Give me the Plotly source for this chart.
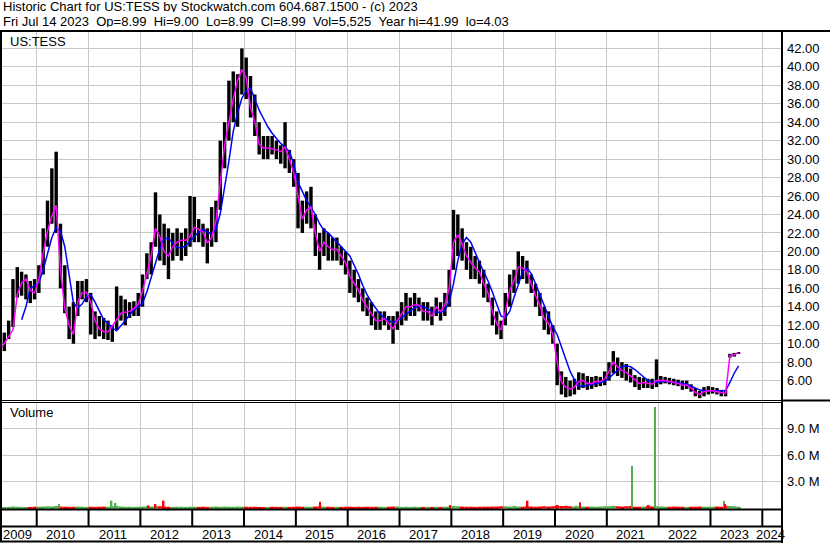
import plotly.graph_objects as go
import pandas as pd

W, H = 830, 543

# ---------------- data ----------------
months = pd.period_range("2009-04", "2023-07", freq="M")

price_high = [
    # 2009 Apr-Dec
    10.0, 11.2, 12.5, 17.0, 18.3, 17.8, 17.5, 16.8, 17.0,
    # 2010
    18.5, 22.5, 25.5, 29.0, 30.8, 23.0, 18.5, 14.0, 14.5, 16.8, 16.8, 17.0,
    # 2011
    15.5, 13.5, 13.0, 12.8, 12.5, 12.0, 16.2, 15.2, 14.8, 14.5, 14.6, 15.5,
    # 2012
    17.5, 19.8, 21.0, 26.4, 24.0, 23.0, 22.5, 22.0, 22.5, 22.0, 22.5, 26.0,
    # 2013
    25.9, 23.5, 23.0, 22.5, 24.8, 25.5, 32.0, 34.0, 38.5, 39.5, 39.2, 41.99,
    # 2014
    41.0, 39.0, 37.0, 34.0, 32.5, 32.5, 32.5, 32.0, 31.5, 34.0, 31.0, 30.0,
    # 2015
    28.5, 25.5, 26.5, 27.0, 24.0, 22.0, 22.5, 22.0, 21.5, 21.5, 20.5, 20.0,
    # 2016
    19.0, 18.0, 17.0, 16.0, 15.0, 14.5, 13.5, 13.5, 13.5, 13.0, 13.0, 13.5,
    # 2017
    14.5, 15.5, 15.0, 15.5, 15.0, 14.5, 14.5, 14.0, 15.0, 14.5, 15.5, 18.0,
    # 2018
    24.5, 24.0, 22.5, 21.0, 20.5, 19.5, 19.0, 18.0, 16.5, 15.0, 13.5, 12.5,
    # 2019
    15.5, 17.5, 18.0, 20.0, 19.5, 19.0, 17.5, 16.5, 15.5, 14.0, 13.5, 12.0,
    # 2020
    10.0, 7.0, 6.4, 6.0, 6.2, 6.9, 6.8, 6.5, 6.4, 6.5, 6.4, 7.0,
    # 2021
    8.0, 9.2, 8.5, 8.0, 7.8, 7.3, 6.6, 6.4, 6.3, 6.2, 6.2, 8.3,
    # 2022
    6.5, 6.4, 6.3, 6.2, 6.1, 6.0, 6.0, 5.6, 5.2, 4.9, 5.3, 5.4,
    # 2023 Jan-Jul
    5.3, 5.2, 5.0, 5.0, 8.9, 9.0, 9.0,
]

price_low = [
    # 2009 Apr-Dec
    8.5, 9.2, 10.5, 11.8, 15.0, 15.2, 14.8, 14.4, 14.8,
    # 2010
    15.5, 17.5, 20.5, 23.0, 22.0, 16.0, 13.3, 10.5, 10.0, 13.0, 14.8, 14.5,
    # 2011
    11.0, 10.5, 10.8, 10.5, 10.4, 10.2, 11.5, 12.5, 12.0, 12.8, 13.0, 13.0,
    # 2012
    14.0, 17.0, 17.5, 20.5, 19.0, 18.5, 17.0, 19.0, 19.5, 19.0, 19.5, 20.5,
    # 2013
    21.0, 21.0, 20.5, 18.7, 20.5, 21.0, 24.5, 29.0, 32.0, 34.0, 33.5, 37.0,
    # 2014
    36.5, 34.5, 32.5, 30.5, 30.0, 30.0, 30.5, 30.0, 29.5, 29.0, 28.5, 27.0,
    # 2015
    22.5, 22.0, 23.0, 22.5, 19.5, 18.0, 19.5, 19.0, 19.0, 19.0, 18.5, 17.5,
    # 2016
    15.5, 15.0, 14.5, 13.5, 13.0, 12.0, 11.5, 11.5, 12.0, 11.5, 10.0, 11.5,
    # 2017
    12.0, 12.5, 13.0, 13.0, 13.5, 12.5, 12.5, 12.0, 13.0, 12.5, 13.0, 14.0,
    # 2018
    18.0, 19.5, 19.0, 18.0, 17.0, 17.0, 16.5, 15.0, 14.5, 12.0, 11.0, 10.5,
    # 2019
    12.0, 14.0, 15.5, 16.5, 17.0, 16.5, 15.5, 14.0, 13.0, 11.5, 11.0, 10.0,
    # 2020
    5.5, 4.5, 4.2, 4.3, 4.5, 5.0, 5.2, 5.0, 5.1, 5.3, 5.4, 5.5,
    # 2021
    6.0, 6.8, 6.5, 6.3, 6.0, 5.8, 5.3, 5.0, 5.2, 5.2, 5.1, 5.3,
    # 2022
    5.6, 5.7, 5.6, 5.5, 5.4, 5.0, 5.1, 4.8, 4.3, 4.1, 4.3, 4.5,
    # 2023 Jan-Jul
    4.6, 4.5, 4.3, 4.3, 8.5, 8.6, 8.9,
]

# short moving average (magenta)
ma_short = [
    9.3, 10.0, 10.8, 11.5, 15.3, 16.6, 17.0, 15.8, 15.5,
    17.0, 19.8, 22.2, 23.8, 25.0, 18.0, 13.8, 12.0, 11.0, 14.5, 15.5, 15.6,
    14.5, 12.5, 11.6, 11.3, 11.3, 11.9, 12.6, 13.3, 13.4, 13.5, 13.8, 14.3,
    15.7, 17.5, 19.5, 22.5, 21.6, 20.0, 19.5, 20.5, 21.0, 21.2, 21.2, 21.6,
    22.6, 22.4, 22.1, 20.9, 21.5, 23.3, 27.6, 31.5, 34.0, 36.5, 38.5, 39.7,
    38.8, 35.6, 34.0, 31.6, 31.2, 31.2, 31.1, 31.0, 30.8, 31.3, 30.0, 28.5,
    26.0, 23.5, 24.5, 24.8, 22.0, 20.0, 21.0, 20.5, 20.2, 20.2, 19.5, 18.8,
    17.3, 16.5, 15.8, 14.7, 14.0, 13.2, 12.5, 12.5, 12.7, 12.2, 11.6, 12.5,
    13.2, 14.0, 14.0, 14.2, 14.2, 13.5, 13.5, 13.0, 14.0, 13.5, 14.2, 16.0,
    21.0, 21.8, 20.8, 19.5, 18.8, 18.2, 17.8, 16.5, 15.5, 13.5, 12.2, 11.5,
    13.5, 15.8, 16.8, 18.3, 18.2, 17.8, 16.5, 15.2, 14.2, 12.7, 12.2, 11.0,
    8.0, 5.8, 5.3, 5.1, 5.3, 5.9, 6.0, 5.7, 5.7, 5.9, 5.9, 6.2,
    7.0, 8.0, 7.5, 7.1, 6.9, 6.5, 6.0, 5.7, 5.8, 5.7, 5.6, 6.0,
    6.0, 6.0, 5.9, 5.8, 5.7, 5.5, 5.5, 5.2, 4.7, 4.5, 4.8, 4.9,
    4.9, 4.8, 4.7, 4.6, 8.7, 8.8, 9.0,
]

# long moving average (blue), starts Sep 2009
ma_long_months = pd.period_range("2009-09", "2023-07", freq="M")
ma_long = [
    12.6, 14.0, 16.0, 16.3,
    16.6, 18.0, 19.8, 21.5, 22.6, 22.2, 20.5, 17.5, 14.4, 13.9, 14.3, 15.1,
    15.3, 14.5, 13.6, 12.6, 12.2, 11.7, 11.4, 11.9, 12.5, 13.1, 13.7, 13.9,
    14.4, 15.6, 17.2, 18.9, 20.3, 21.4, 21.4, 20.9, 20.4, 20.4, 20.6, 21.1,
    21.6, 22.1, 22.4, 22.1, 21.9, 22.4, 24.1, 26.8, 29.8, 33.0, 35.0, 36.6,
    37.4, 37.7, 36.5, 35.3, 34.4, 33.5, 32.8, 32.2, 31.7, 31.3, 30.8, 29.5,
    27.5, 26.5, 25.5, 24.8, 24.0, 23.0, 22.3, 22.0, 21.5, 21.0, 20.5, 20.0,
    19.5, 18.5, 17.5, 16.3, 15.3, 14.5, 13.8, 13.2, 12.8, 12.5, 12.3, 12.5,
    12.8, 13.2, 13.6, 13.9, 14.1, 14.0, 13.8, 13.5, 13.4, 13.4, 13.6, 14.5,
    16.5, 19.0, 20.8, 21.5, 21.0, 19.8, 18.8, 17.8, 16.8, 15.6, 14.2, 13.0,
    12.8, 13.5, 15.0, 16.5, 17.8, 18.2, 17.6, 16.5, 15.3, 14.0, 12.8, 11.8,
    11.0, 9.6, 8.2, 7.0, 6.1, 5.4, 5.4, 5.5, 5.6, 5.7, 5.8, 5.9,
    6.3, 6.7, 7.2, 7.5, 7.6, 7.5, 7.2, 6.8, 6.3, 6.0, 5.9, 5.8,
    5.9, 5.9, 5.9, 5.8, 5.8, 5.7, 5.6, 5.4, 5.2, 5.0, 4.9, 4.9,
    4.9, 4.9, 4.9, 4.9, 5.8, 6.8, 7.6,
]

# typical daily volume per month (millions of shares)
vol_month = [
    0.14, 0.16, 0.18, 0.22, 0.20, 0.18, 0.16, 0.18, 0.20,
    0.20, 0.22, 0.25, 0.22, 0.28, 0.22, 0.20, 0.18, 0.20, 0.22, 0.20, 0.18,
    0.20, 0.18, 0.20, 0.22, 0.20, 0.25, 0.28, 0.22, 0.20, 0.20, 0.18, 0.20,
    0.22, 0.25, 0.22, 0.28, 0.25, 0.22, 0.20, 0.18, 0.20, 0.20, 0.18, 0.20,
    0.20, 0.18, 0.20, 0.18, 0.20, 0.22, 0.20, 0.22, 0.20, 0.20, 0.22, 0.20,
    0.20, 0.18, 0.20, 0.18, 0.16, 0.18, 0.20, 0.18, 0.18, 0.20, 0.18, 0.20,
    0.22, 0.20, 0.20, 0.20, 0.22, 0.25, 0.20, 0.20, 0.18, 0.20, 0.18, 0.20,
    0.20, 0.18, 0.20, 0.18, 0.20, 0.18, 0.20, 0.20, 0.18, 0.20, 0.22, 0.20,
    0.18, 0.20, 0.18, 0.20, 0.18, 0.18, 0.20, 0.18, 0.20, 0.18, 0.20, 0.22,
    0.30, 0.25, 0.22, 0.20, 0.20, 0.18, 0.20, 0.20, 0.20, 0.22, 0.22, 0.25,
    0.25, 0.22, 0.25, 0.22, 0.20, 0.25, 0.22, 0.20, 0.22, 0.25, 0.22, 0.25,
    0.30, 0.28, 0.30, 0.25, 0.22, 0.25, 0.22, 0.20, 0.22, 0.20, 0.22, 0.25,
    0.25, 0.30, 0.25, 0.22, 0.25, 0.28, 0.20, 0.20, 0.22, 0.25, 0.22, 0.25,
    0.22, 0.20, 0.20, 0.22, 0.20, 0.20, 0.18, 0.20, 0.20, 0.22, 0.20, 0.20,
    0.20, 0.22, 0.20, 0.30, 0.28, 0.25, 0.20,
]

# single-day volume spikes (millions)
spike_up_dates = ["2010-06-08", "2011-06-12", "2011-07-10", "2016-12-14",
                  "2019-03-24", "2020-05-27", "2021-06-28", "2021-12-05",
                  "2023-04-05"]
spike_up_vol = [0.50, 0.88, 0.62, 0.25, 0.30, 0.30, 4.77, 11.4, 0.84]
spike_down_dates = ["2012-02-28", "2012-04-17", "2012-06-13", "2015-06-19",
                    "2017-12-21", "2019-06-22", "2020-01-19", "2020-06-24",
                    "2021-10-22", "2023-04-14"]
spike_down_vol = [0.35, 0.50, 0.88, 0.77, 0.40, 0.88, 0.40, 0.70, 0.40, 0.50]

year_labels = [str(y) for y in range(2009, 2025)]
price_ticks = list(range(6, 43, 2))
vol_ticks = [3, 6, 9]

header1 = "Historic Chart for US:TESS by Stockwatch.com 604.687.1500 - (c) 2023"
header2 = "Fri Jul 14 2023  Op=8.99  Hi=9.00  Lo=8.99  Cl=8.99  Vol=5,525  Year hi=41.99  lo=4.03"

# ---------------- helpers ----------------
def month_pos(periods):
    return [p.year + (p.month - 0.5) / 12 for p in periods]

def day_pos(dates):
    out = []
    for d in pd.to_datetime(dates):
        n = 366 if d.is_leap_year else 365
        out.append(d.year + (d.dayofyear - 0.5) / n)
    return out

def px(x):
    return x / W

def py(y):
    return 1 - y / H

FONT = "Liberation Sans, Arial, sans-serif"
GRID = "#c8c8c8"

mx = month_pos(months)
mx_long = month_pos(ma_long_months)

X0, X1 = 2009.330, 2024.380

fig = go.Figure()

# price high-low bars
fig.add_trace(go.Bar(
    x=mx, base=price_low,
    y=[h - l for h, l in zip(price_high, price_low)],
    width=0.066, marker=dict(color="black", line=dict(width=0)),
    xaxis="x", yaxis="y", showlegend=False))

fig.add_trace(go.Scatter(x=mx_long, y=ma_long, mode="lines",
                         line=dict(color="#0000ff", width=1.5),
                         xaxis="x", yaxis="y", showlegend=False))
fig.add_trace(go.Scatter(x=mx, y=ma_short, mode="lines",
                         line=dict(color="#ff00ff", width=1.5),
                         xaxis="x", yaxis="y", showlegend=False))

# volume
base_colors = ["#ff0000"] + ["#4cb04c" if ma_short[i] >= ma_short[i - 1] else "#ff0000"
                             for i in range(1, len(ma_short))]
fig.add_trace(go.Bar(x=mx, y=[v * 1e6 for v in vol_month], width=1 / 12,
                     marker=dict(color=base_colors, line=dict(width=0)),
                     xaxis="x2", yaxis="y2", showlegend=False))
fig.add_trace(go.Bar(x=day_pos(spike_up_dates), y=[v * 1e6 for v in spike_up_vol],
                     width=0.03, marker=dict(color="#4cb04c", line=dict(width=0)),
                     xaxis="x2", yaxis="y2", showlegend=False))
fig.add_trace(go.Bar(x=day_pos(spike_down_dates), y=[v * 1e6 for v in spike_down_vol],
                     width=0.03, marker=dict(color="#ff0000", line=dict(width=0)),
                     xaxis="x2", yaxis="y2", showlegend=False))

years = list(range(2010, 2025))
xaxis_common = dict(range=[X0, X1], domain=[px(2), px(782)], tickvals=years,
                    showticklabels=False, showgrid=True, gridcolor=GRID, gridwidth=1,
                    zeroline=False, ticks="", showline=False, fixedrange=True)

vol_pxM = (508.5 - 428.3) / 9.0
fig.update_layout(
    width=W, height=H, margin=dict(l=0, r=0, t=0, b=0),
    paper_bgcolor="white", plot_bgcolor="white", barmode="overlay",
    font=dict(family=FONT, size=13, color="black"),
    xaxis=dict(anchor="y", **xaxis_common),
    xaxis2=dict(anchor="y2", matches="x", **xaxis_common),
    yaxis=dict(domain=[py(400), py(32)], range=[3.90, 43.77], side="right",
               tickvals=price_ticks, ticktext=[f"{v:.2f}" for v in price_ticks],
               showgrid=True, gridcolor=GRID, zeroline=False, ticks="",
               ticklabelstandoff=4, fixedrange=True),
    yaxis2=dict(domain=[py(509), py(403)],
                range=[-0.5 / vol_pxM * 1e6, (508.5 - 403) / vol_pxM * 1e6],
                side="right", tickvals=[v * 1e6 for v in vol_ticks],
                ticktext=[f"{v:.1f} M" for v in vol_ticks],
                showgrid=True, gridcolor=GRID, zeroline=False, ticks="",
                ticklabelstandoff=4, fixedrange=True),
)

# frame lines
shapes = []
def hline(y, x0, x1, w):
    shapes.append(dict(type="line", xref="paper", yref="paper",
                       x0=px(x0), x1=px(x1), y0=py(y), y1=py(y),
                       line=dict(color="black", width=w)))
def vline(x, y0, y1, w):
    shapes.append(dict(type="line", xref="paper", yref="paper",
                       x0=px(x), x1=px(x), y0=py(y0), y1=py(y1),
                       line=dict(color="black", width=w)))

hline(31, 0, 830, 2)
vline(1, 30, 542, 2)
vline(782, 30, 543, 2)
hline(400.5, 0, 830, 1)
hline(402.5, 0, 782, 1)
hline(400.5, 782, 830, 2)
hline(509.5, 0, 782, 2)
hline(526.5, 0, 782, 2)
hline(541.5, 0, 782, 2)
for yv in years:
    shapes.append(dict(type="line", xref="x", yref="paper", x0=yv, x1=yv,
                       y0=py(510), y1=py(527), line=dict(color="black", width=2)))
fig.update_layout(shapes=shapes)

ann = []
def text(x, y, s, anchor="left", h=None):
    a = dict(x=px(x), y=py(y), xref="paper", yref="paper", text=s,
             showarrow=False, xanchor=anchor, yanchor="middle",
             font=dict(family=FONT, size=13, color="black"))
    if h is not None:
        a.update(height=h, borderpad=0, valign="middle")
    ann.append(a)

text(2, 6.2, header1.replace(" ", "\u00a0"), h=12)
text(2, 20.6, header2.replace(" ", "\u00a0"), h=12)
text(8, 41, "US:TESS")
text(8, 413, "Volume")

for lbl in year_labels:
    yr = int(lbl)
    c = (max(yr, X0) + min(yr + 1, X1)) / 2 - 0.035
    ann.append(dict(x=c, y=py(534.5), xref="x", yref="paper", text=lbl,
                    showarrow=False, xanchor="center", yanchor="middle",
                    font=dict(family=FONT, size=13, color="black")))
fig.update_layout(annotations=ann)

fig.write_html("out.html", config={"displayModeBar": False},
               post_script="document.body.style.margin='0';document.body.style.overflow='hidden';")
